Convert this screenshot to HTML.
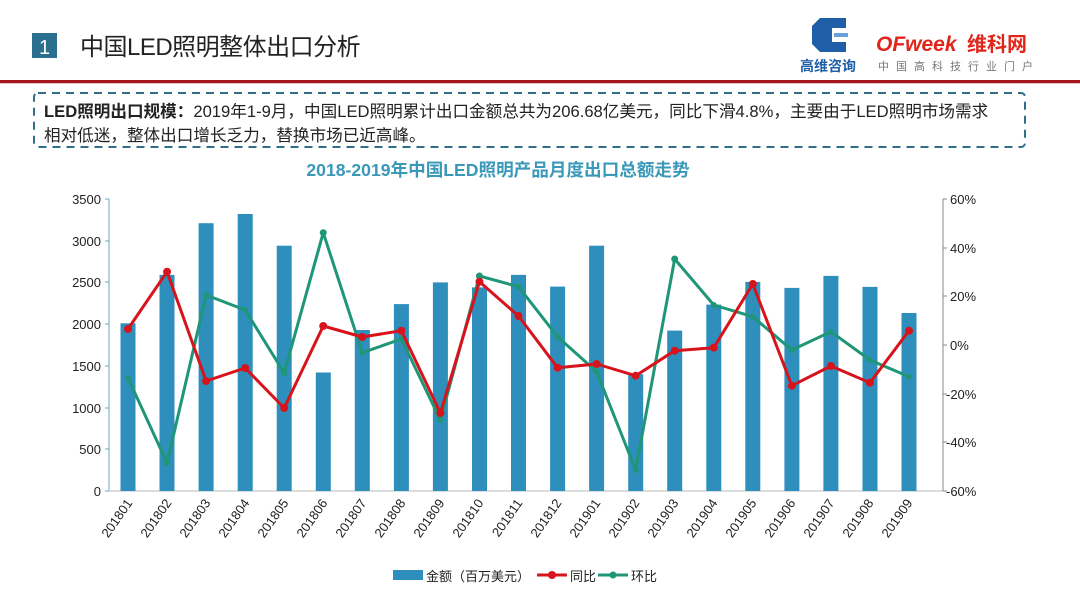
<!DOCTYPE html>
<html><head><meta charset="utf-8"><style>
html,body{margin:0;padding:0;background:#fff;}
body{width:1080px;height:608px;overflow:hidden;position:relative;font-family:"Liberation Sans","Noto Sans CJK SC",sans-serif;}
</style></head><body>
<svg width="1080" height="608" viewBox="0 0 1080 608" xmlns="http://www.w3.org/2000/svg" style="position:absolute;left:0;top:0" font-family="Liberation Sans, Noto Sans CJK SC, sans-serif">
<rect x="0" y="0" width="1080" height="608" fill="#fff"/>
<rect x="32" y="33" width="25" height="25" fill="#2b6f8f"/>
<text x="44.5" y="54" font-size="20" fill="#fff" text-anchor="middle">1</text>
<text x="80" y="55" font-size="24" fill="#222" letter-spacing="-0.5">中国LED照明整体出口分析</text>
<path d="M820 18 L846 18 L846 28 L832 28 L832 42 L846 42 L846 52 L820 52 L812 44 L812 26 Z" fill="#1f5fa8"/>
<rect x="834" y="33" width="14" height="4" fill="#6aa0d8"/>
<text x="828" y="71" font-size="14" font-weight="bold" fill="#1f5fa8" text-anchor="middle">高维咨询</text>
<text x="876" y="51" font-size="21" font-weight="bold" font-style="italic" fill="#e0261b">OFweek</text>
<text x="967" y="51" font-size="20" font-weight="bold" fill="#e0261b">维科网</text>
<text x="878" y="70" font-size="11" fill="#777" letter-spacing="7">中国高科技行业门户</text>
<rect x="0" y="80" width="1080" height="3" fill="#a3161e"/>
<rect x="0" y="83" width="1080" height="1" fill="#e8c4c4"/>
<rect x="34" y="93" width="991" height="54" rx="4" fill="none" stroke="#2f6f8a" stroke-width="2" stroke-dasharray="8,6"/>
<text x="44" y="117" font-size="16.6" fill="#222"><tspan font-weight="bold">LED照明出口规模：</tspan>2019年1-9月，中国LED照明累计出口金额总共为206.68亿美元，同比下滑4.8%，主要由于LED照明市场需求</text>
<text x="44" y="141" font-size="16.6" fill="#222">相对低迷，整体出口增长乏力，替换市场已近高峰。</text>
<text x="498" y="176" font-size="17.6" font-weight="bold" fill="#3a98b8" text-anchor="middle">2018-2019年中国LED照明产品月度出口总额走势</text>
<line x1="109" y1="199" x2="109" y2="491" stroke="#6aa9c4" stroke-width="1"/>
<line x1="109" y1="491" x2="943" y2="491" stroke="#bbb" stroke-width="1"/>
<line x1="943" y1="199" x2="943" y2="491" stroke="#888" stroke-width="1"/>
<g font-size="13" fill="#222" text-anchor="end">
<text x="101" y="204">3500</text><text x="101" y="246">3000</text><text x="101" y="287">2500</text><text x="101" y="329">2000</text><text x="101" y="371">1500</text><text x="101" y="413">1000</text><text x="101" y="454">500</text><text x="101" y="496">0</text>
</g>
<g stroke="#6aa9c4"><line x1="105" y1="199" x2="109" y2="199"/><line x1="105" y1="241" x2="109" y2="241"/><line x1="105" y1="282" x2="109" y2="282"/><line x1="105" y1="324" x2="109" y2="324"/><line x1="105" y1="366" x2="109" y2="366"/><line x1="105" y1="408" x2="109" y2="408"/><line x1="105" y1="449" x2="109" y2="449"/><line x1="105" y1="491" x2="109" y2="491"/></g>
<g stroke="#888"><line x1="943" y1="199" x2="947" y2="199"/><line x1="943" y1="248" x2="947" y2="248"/><line x1="943" y1="296" x2="947" y2="296"/><line x1="943" y1="345" x2="947" y2="345"/><line x1="943" y1="394" x2="947" y2="394"/><line x1="943" y1="442" x2="947" y2="442"/><line x1="943" y1="491" x2="947" y2="491"/></g>
<g font-size="13" fill="#222">
<text x="950" y="204">60%</text><text x="950" y="253">40%</text><text x="950" y="301">20%</text><text x="950" y="350">0%</text><text x="946" y="399">-20%</text><text x="946" y="447">-40%</text><text x="946" y="496">-60%</text>
</g>
<g fill="#2e8fbd">
<rect x="120.5" y="323.3" width="15" height="167.7"/>
<rect x="159.5" y="274.9" width="15" height="216.1"/>
<rect x="198.6" y="223.2" width="15" height="267.8"/>
<rect x="237.7" y="214.0" width="15" height="277"/>
<rect x="276.7" y="245.7" width="15" height="245.3"/>
<rect x="315.8" y="372.5" width="15" height="118.5"/>
<rect x="354.8" y="330.0" width="15" height="161"/>
<rect x="393.9" y="304.1" width="15" height="186.9"/>
<rect x="432.9" y="282.4" width="15" height="208.6"/>
<rect x="472.0" y="287.4" width="15" height="203.6"/>
<rect x="511.0" y="274.9" width="15" height="216.1"/>
<rect x="550.1" y="286.6" width="15" height="204.4"/>
<rect x="589.1" y="245.7" width="15" height="245.3"/>
<rect x="628.2" y="374.2" width="15" height="116.8"/>
<rect x="667.2" y="330.6" width="15" height="160.4"/>
<rect x="706.3" y="304.6" width="15" height="186.4"/>
<rect x="745.3" y="281.9" width="15" height="209.1"/>
<rect x="784.4" y="287.9" width="15" height="203.1"/>
<rect x="823.4" y="275.9" width="15" height="215.1"/>
<rect x="862.5" y="286.9" width="15" height="204.1"/>
<rect x="901.5" y="313.0" width="15" height="178"/>
</g>
<polyline fill="none" stroke="#1f9677" stroke-width="3" stroke-linejoin="round" points="128,378 167.05,463 206.1,295 245.15,310 284.2,373 323.25,232.7 362.3,352.7 401.35,339 440.4,420 479.45,276 518.5,286.7 557.55,336.7 596.6,371.7 635.65,470 674.7,259 713.75,305 752.8,316.7 791.85,350 830.9,331.7 869.95,360 909,376.7"/>
<g fill="#1f9677">
<circle cx="128" cy="378" r="3"/><circle cx="167.05" cy="463" r="3"/><circle cx="206.1" cy="295" r="3"/><circle cx="245.15" cy="310" r="3"/><circle cx="284.2" cy="373" r="3"/><circle cx="323.25" cy="232.7" r="3.5"/><circle cx="362.3" cy="352.7" r="3"/><circle cx="401.35" cy="339" r="3"/><circle cx="440.4" cy="420" r="3"/><circle cx="479.45" cy="276" r="3.5"/><circle cx="518.5" cy="286.7" r="3"/><circle cx="557.55" cy="336.7" r="3"/><circle cx="596.6" cy="371.7" r="3"/><circle cx="635.65" cy="470" r="3"/><circle cx="674.7" cy="259" r="3.5"/><circle cx="713.75" cy="305" r="3"/><circle cx="752.8" cy="316.7" r="3"/><circle cx="791.85" cy="350" r="3"/><circle cx="830.9" cy="331.7" r="3"/><circle cx="869.95" cy="360" r="3"/><circle cx="909" cy="376.7" r="3"/>
</g>
<polyline fill="none" stroke="#d7141c" stroke-width="3" stroke-linejoin="round" points="128,329 167.05,271.7 206.1,381 245.15,368 284.2,408 323.25,326 362.3,337 401.35,330.7 440.4,413 479.45,281.7 518.5,316 557.55,367.7 596.6,364 635.65,375.7 674.7,350.7 713.75,347.7 752.8,284 791.85,385.7 830.9,366 869.95,382.7 909,330.7"/>
<g fill="#d7141c">
<circle cx="128" cy="329" r="4"/><circle cx="167.05" cy="271.7" r="4"/><circle cx="206.1" cy="381" r="4"/><circle cx="245.15" cy="368" r="4"/><circle cx="284.2" cy="408" r="4"/><circle cx="323.25" cy="326" r="4"/><circle cx="362.3" cy="337" r="4"/><circle cx="401.35" cy="330.7" r="4"/><circle cx="440.4" cy="413" r="4"/><circle cx="479.45" cy="281.7" r="4"/><circle cx="518.5" cy="316" r="4"/><circle cx="557.55" cy="367.7" r="4"/><circle cx="596.6" cy="364" r="4"/><circle cx="635.65" cy="375.7" r="4"/><circle cx="674.7" cy="350.7" r="4"/><circle cx="713.75" cy="347.7" r="4"/><circle cx="752.8" cy="284" r="4"/><circle cx="791.85" cy="385.7" r="4"/><circle cx="830.9" cy="366" r="4"/><circle cx="869.95" cy="382.7" r="4"/><circle cx="909" cy="330.7" r="4"/>
</g>
<g font-size="13" fill="#222" text-anchor="end">
<text transform="translate(133,503) rotate(-55)">201801</text>
<text transform="translate(172,503) rotate(-55)">201802</text>
<text transform="translate(211,503) rotate(-55)">201803</text>
<text transform="translate(250,503) rotate(-55)">201804</text>
<text transform="translate(289,503) rotate(-55)">201805</text>
<text transform="translate(328,503) rotate(-55)">201806</text>
<text transform="translate(367,503) rotate(-55)">201807</text>
<text transform="translate(406,503) rotate(-55)">201808</text>
<text transform="translate(445,503) rotate(-55)">201809</text>
<text transform="translate(484,503) rotate(-55)">201810</text>
<text transform="translate(523,503) rotate(-55)">201811</text>
<text transform="translate(562,503) rotate(-55)">201812</text>
<text transform="translate(601,503) rotate(-55)">201901</text>
<text transform="translate(640,503) rotate(-55)">201902</text>
<text transform="translate(679,503) rotate(-55)">201903</text>
<text transform="translate(718,503) rotate(-55)">201904</text>
<text transform="translate(757,503) rotate(-55)">201905</text>
<text transform="translate(796,503) rotate(-55)">201906</text>
<text transform="translate(835,503) rotate(-55)">201907</text>
<text transform="translate(874,503) rotate(-55)">201908</text>
<text transform="translate(913,503) rotate(-55)">201909</text>
</g>
<rect x="393" y="570" width="30" height="10" fill="#2e8fbd"/>
<text x="426" y="581" font-size="13" fill="#222">金额（百万美元）</text>
<line x1="537" y1="575" x2="567" y2="575" stroke="#d7141c" stroke-width="3"/><circle cx="552" cy="575" r="4" fill="#d7141c"/>
<text x="570" y="581" font-size="13" fill="#222">同比</text>
<line x1="598" y1="575" x2="628" y2="575" stroke="#1f9677" stroke-width="3"/><circle cx="613" cy="575" r="3.5" fill="#1f9677"/>
<text x="631" y="581" font-size="13" fill="#222">环比</text>
</svg>
</body></html>
